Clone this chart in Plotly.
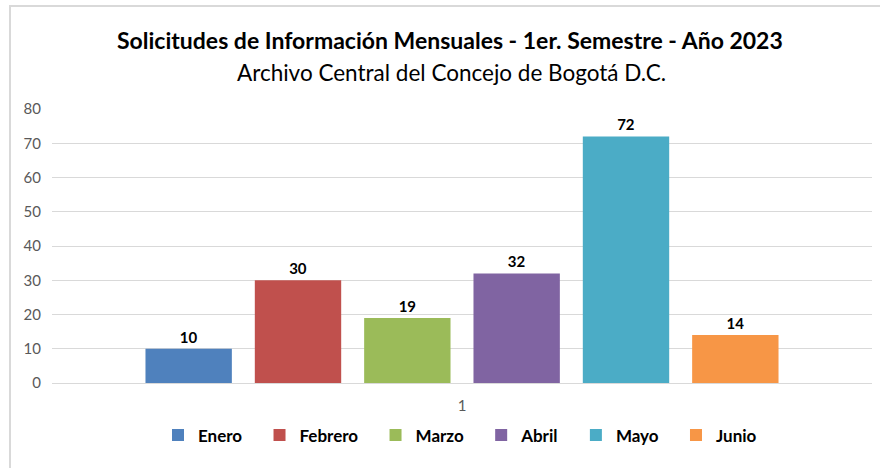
import plotly.graph_objects as go

categories = ["1"]
months = ["Enero", "Febrero", "Marzo", "Abril", "Mayo", "Junio"]
values = [10, 30, 19, 32, 72, 14]
colors = ["#4F81BD", "#C0504D", "#9BBB59", "#8064A2", "#4BACC6", "#F79646"]
y_ticks = [0, 10, 20, 30, 40, 50, 60, 70, 80]

FONT = "Lato"
W, H = 880, 468
L, R, T, B = 52, 8, 109, 85
pw, ph = W - L - R, H - T - B

def px_x(p):
    return (p - L) / pw

def px_y(p):
    return (H - B - p) / ph

PAD = "\u00a0" * 3

fig = go.Figure()
for m, v, c in zip(months, values, colors):
    fig.add_trace(go.Bar(
        name=m + PAD, x=categories, y=[v], marker=dict(color=c, line=dict(width=0)),
        text=[str(v)], textposition="outside", cliponaxis=False,
        textfont=dict(family=FONT, size=15, color="#000000", weight="bold"),
    ))

fig.update_layout(
    width=W, height=H,
    margin=dict(l=L, r=R, t=T, b=B),
    paper_bgcolor="white", plot_bgcolor="white",
    barmode="group", bargap=0.20, bargroupgap=0.21,
    font=dict(family=FONT),
    showlegend=True,
    legend=dict(orientation="h", x=px_x(466), xanchor="center", y=px_y(435.5), yanchor="middle",
                font=dict(family=FONT, size=17, color="#000000", weight="bold"),
                itemwidth=30, traceorder="normal"),
    xaxis=dict(type="category", showgrid=False, showline=False, ticks="",
               tickfont=dict(family=FONT, size=15, color="#595959"), ticklabelstandoff=12),
    yaxis=dict(range=[0, 80], tickvals=y_ticks, showgrid=True, gridcolor="#D9D9D9", gridwidth=1,
               zeroline=True, zerolinecolor="#D9D9D9", zerolinewidth=1, showline=False,
               tickfont=dict(family=FONT, size=15, color="#595959"), ticklabelstandoff=10),
    annotations=[
        dict(text="<b>Solicitudes de Información Mensuales - 1er. Semestre - Año 2023</b>",
             x=px_x(450), y=px_y(40), xref="paper", yref="paper", showarrow=False,
             xanchor="center", yanchor="middle", font=dict(family=FONT, size=23, color="#000000")),
        dict(text="Archivo Central del Concejo de Bogotá D.C.",
             x=px_x(451), y=px_y(73), xref="paper", yref="paper", showarrow=False,
             xanchor="center", yanchor="middle", font=dict(family=FONT, size=22.5, color="#000000")),
    ],
    shapes=[dict(type="rect", xref="paper", yref="paper",
                 x0=px_x(10), x1=px_x(885), y0=px_y(475), y1=px_y(6),
                 line=dict(color="#D9D9D9", width=2), fillcolor="rgba(0,0,0,0)", layer="below")],
)

fig.write_html("out.html", config={"displayModeBar": False},
               post_script="document.body.style.margin='0';document.body.style.overflow='hidden';")
